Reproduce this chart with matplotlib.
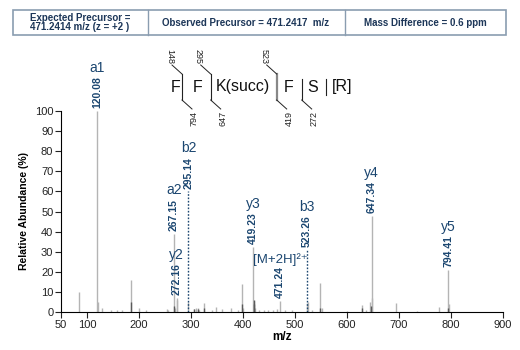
import matplotlib
matplotlib.use("Agg")
from matplotlib import pyplot as plt
from matplotlib.patches import Rectangle
from matplotlib.lines import Line2D

# spectrum peaks: (m/z, relative abundance %)
peak_mz = [84.6, 120.08, 122.0, 129.0, 147.0, 158.0, 167.0, 184.6, 200.0, 214.0,
           253.0, 255.0, 267.15, 269.0, 272.16, 273.5, 295.14, 305.0, 310.0, 313.0,
           316.0, 325.6, 340.0, 348.0, 360.0, 377.0, 390.0, 398.7, 400.5, 419.23,
           420.5, 423.0, 430.0, 441.0, 448.0, 458.0, 464.8, 471.24, 481.0, 494.0,
           522.5, 524.4, 532.0, 548.7, 551.0, 600.0, 629.6, 636.5, 645.0, 647.34,
           649.0, 694.5, 735.0, 777.5, 794.41, 796.0]
peak_int = [10.0, 100.0, 5.0, 2.0, 1.0, 0.8, 1.0, 16.0, 2.0, 0.8,
            1.5, 1.2, 39.0, 2.0, 7.0, 6.0, 5.0, 1.5, 1.8, 2.0,
            1.2, 4.5, 1.0, 2.5, 1.5, 2.2, 1.2, 14.0, 2.0, 32.5,
            5.5, 2.0, 1.0, 1.2, 1.0, 1.0, 1.5, 5.5, 1.0, 0.8,
            4.5, 5.0, 1.0, 14.3, 2.0, 0.5, 3.5, 1.0, 5.0, 47.8,
            7.0, 4.3, 0.5, 2.5, 21.0, 4.0]

# darker low-level signal under some peaks
dark_mz = [184.6, 267.15, 305.0, 313.0, 325.6, 398.7, 420.5, 421.5, 548.7, 629.6, 646.0, 795.0]
dark_int = [5.0, 3.0, 1.5, 1.5, 2.0, 4.0, 6.0, 4.0, 2.0, 2.0, 3.0, 2.0]

# annotated fragment ions
ion_names = ["a1", "a2", "y2", "b2", "y3", "[M+2H]²⁺", "b3", "y4", "y5"]
ion_mz = [120.08, 267.15, 272.16, 295.14, 419.23, 471.24, 523.26, 647.34, 794.41]
ion_labels = ["120.08", "267.15", "272.16", "295.14", "419.23", "471.24", "523.26", "647.34", "794.41"]
ion_height = [100.0, 39.0, 7.0, 60.0, 32.5, 5.5, 31.0, 47.8, 21.0]
ion_dotted = [False, False, False, True, False, False, True, False, False]

# peptide sequence and fragment numbers
residues = ["F", "F", "K(succ)", "F", "S", "[R]"]
b_frag = ["148", "295", "523", "", ""]
y_frag = ["794", "647", "419", "272", ""]

header = ["Expected Precursor =\n471.2414 m/z (z = +2 )",
          "Observed Precursor = 471.2417  m/z",
          "Mass Difference = 0.6 ppm"]

plt.rcParams["font.family"] = ["Liberation Sans", "DejaVu Sans"]

navy = "#1b4670"
W, H = 520, 350


def fx(x):
    return x / W


def fy(y):
    return 1 - y / H


fig = plt.figure(figsize=(5.2, 3.5), dpi=100)
ax = fig.add_axes([fx(61), 38 / H, 442 / W, 201 / H])

ax.vlines(peak_mz, 0, peak_int, color="#b4b4b4", lw=1.0)
ax.vlines(dark_mz, 0, dark_int, color="#5a5a5a", lw=1.0)

for name, mz, lab, h, dot in zip(ion_names, ion_mz, ion_labels, ion_height, ion_dotted):
    if dot:
        ax.vlines(mz, 0, h, color=navy, lw=1.0, linestyles=(0, (1.2, 1.2)))
    ax.annotate(lab, (mz, h), xytext=(0, 2), textcoords="offset points",
                rotation=90, ha="center", va="bottom", fontsize=7.5,
                fontweight="bold", color=navy, annotation_clip=False)
    big = name.startswith("[")
    ax.annotate(name, (mz, h), xytext=(0, 25 if big else 26), textcoords="offset points",
                ha="center", va="bottom", fontsize=9.5 if big else 10, color=navy,
                annotation_clip=False)

ax.set_xlim(50, 900)
ax.set_ylim(0, 100)
ax.set_xticks([50, 100, 200, 300, 400, 500, 600, 700, 800, 900])
ax.set_yticks(range(0, 101, 10))
ax.spines["top"].set_visible(False)
ax.spines["right"].set_visible(False)
ax.tick_params(length=4, width=0.8, labelsize=8, pad=1.5, colors="#222222")
ax.set_xlabel("m/z", fontsize=8.5, fontweight="bold", labelpad=1)
ax.set_ylabel("Relative Abundance (%)", fontsize=7.5, fontweight="bold", labelpad=4)

# header box
fig.patches.append(Rectangle((fx(13), fy(35)), fx(506) - fx(13), fy(10) - fy(35),
                             transform=fig.transFigure, fill=False,
                             edgecolor="#8a9db0", lw=1.2))
for xd in [148, 345]:
    fig.lines.append(Line2D([fx(xd), fx(xd)], [fy(10), fy(35)],
                            transform=fig.transFigure, color="#8a9db0", lw=1.0))
for txt, xc in zip(header, [80, 246, 425]):
    fig.text(fx(xc), fy(22.5), txt, ha="center", va="center", fontsize=7,
             fontweight="bold", color="#1c3658", linespacing=0.95)

# sequence with fragmentation marks
res_x = [175.5, 198, 243, 289, 313, 341.7]
cut_x = [182, 210.7, 276.7, 301.7, 325.5]
for r, x in zip(residues, res_x):
    fig.text(fx(x), fy(87), r, ha="center", va="center", fontsize=11.5,
             color="#111111")
for i, (x, b, y) in enumerate(zip(cut_x, b_frag, y_frag)):
    col = "#888888" if i == 2 else "#222222"
    lw = 1.6 if i == 2 else 0.8
    top = 74 if b else 79
    bot = 100 if y else 95
    fig.lines.append(Line2D([fx(x), fx(x)], [fy(top), fy(bot)],
                            transform=fig.transFigure, color=col, lw=lw))
    if b:
        fig.lines.append(Line2D([fx(x - 10), fx(x)], [fy(65), fy(74)],
                                transform=fig.transFigure, color="#222222", lw=0.7))
        fig.text(fx(x - 12.5), fy(64), b, rotation=-90, ha="center", va="bottom",
                 fontsize=6.5, color="#222222")
    if y:
        fig.lines.append(Line2D([fx(x), fx(x + 10)], [fy(100), fy(109)],
                                transform=fig.transFigure, color="#222222", lw=0.7))
        fig.text(fx(x + 12.5), fy(111), y, rotation=90, ha="center", va="top",
                 fontsize=6.5, color="#222222")

plt.savefig("out.png", dpi=100)
